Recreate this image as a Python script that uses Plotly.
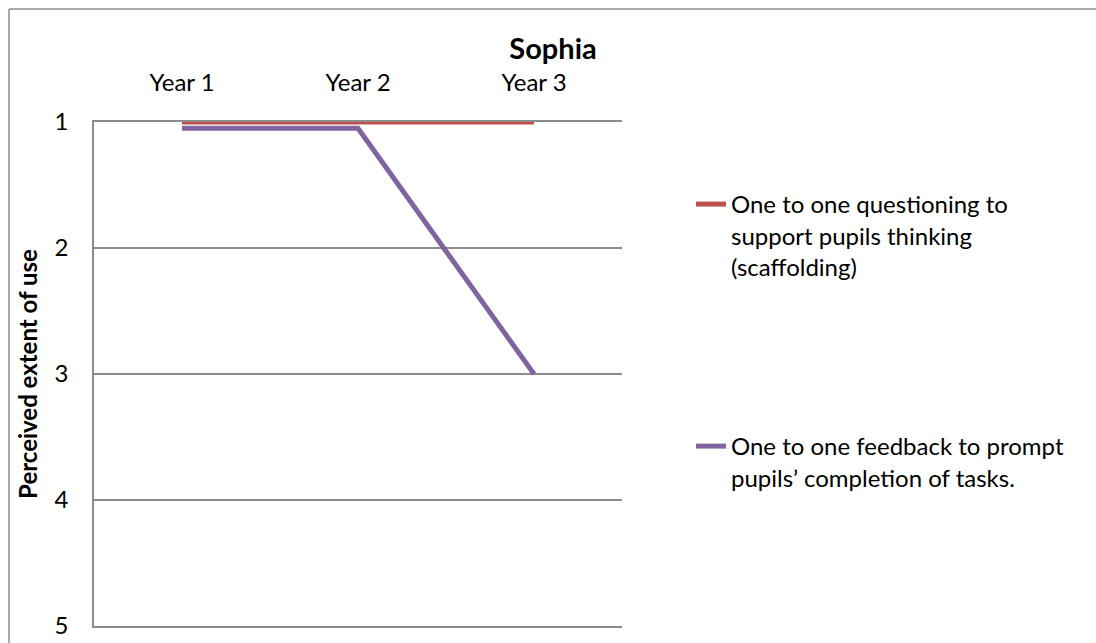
import plotly.graph_objects as go

years = ["Year 1", "Year 2", "Year 3"]
questioning = [1, 1, 1]
feedback = [1.05, 1.05, 3]
series_names = [
    "One to one questioning to<br>support pupils thinking<br>(scaffolding)",
    "One to one feedback to prompt<br>pupils\u2019 completion of tasks.",
]
y_ticks = [1, 2, 3, 4, 5]
title_text = "Sophia"
y_title = "Perceived extent of use"

FONT = "Lato"
W, H = 1096, 643
L, R, T, B = 94, 622, 122, 626
pw, ph = R - L, B - T

def px(x):
    return (x - L) / pw

def py(y):
    return (B - y) / ph

fig = go.Figure()
fig.add_trace(go.Scatter(x=years, y=questioning, mode="lines", name=series_names[0],
                         line=dict(color="#C0504D", width=5), legend="legend",
                         showlegend=True))
fig.add_trace(go.Scatter(x=years, y=feedback, mode="lines", name=series_names[1],
                         line=dict(color="#8064A2", width=5), legend="legend2",
                         showlegend=True))

grid_col = "#8c8c8c"
fig.update_layout(
    width=W, height=H,
    margin=dict(l=L, r=W - R, t=T, b=H - B, autoexpand=False),
    paper_bgcolor="white", plot_bgcolor="white",
    font=dict(family=FONT, color="black", size=24),
    title=dict(text="<b>" + title_text + "</b>", xref="container", x=553 / W,
               xanchor="center", yref="container", y=1 - 49 / H, yanchor="middle",
               font=dict(size=29, family=FONT)),
    xaxis=dict(side="top", type="category", range=[-0.5, 2.5], showgrid=False,
               showline=True, mirror=True, linecolor=grid_col, linewidth=1.5,
               layer="below traces", ticks="", ticklabelstandoff=20, automargin=False,
               tickfont=dict(size=24, family=FONT)),
    yaxis=dict(range=[5, 1], tickvals=y_ticks, showgrid=True, gridcolor=grid_col,
               gridwidth=1.5, zeroline=False, showline=True, linecolor=grid_col,
               linewidth=1.5, layer="below traces", ticks="", ticklabelstandoff=19,
               ticklabeloverflow="allow", automargin=False,
               tickfont=dict(size=24, family=FONT),
               title=dict(text="<b>" + y_title + "</b>", font=dict(size=24, family=FONT),
                          standoff=10)),
    legend=dict(x=px(691), xanchor="left", y=py(182), yanchor="top", valign="top",
                font=dict(size=24, family=FONT), bgcolor="rgba(0,0,0,0)"),
    legend2=dict(x=px(691), xanchor="left", y=py(424), yanchor="top", valign="top",
                 font=dict(size=24, family=FONT), bgcolor="rgba(0,0,0,0)"),
    shapes=[
        dict(type="line", xref="paper", yref="paper",
             x0=px(9), x1=px(1120), y0=py(9), y1=py(9),
             line=dict(color=grid_col, width=1.5), layer="below"),
        dict(type="line", xref="paper", yref="paper",
             x0=px(9), x1=px(9), y0=py(9), y1=py(680),
             line=dict(color=grid_col, width=1.5), layer="below"),
    ],
)

fig.write_html("out.html", config={"displayModeBar": False},
               post_script="document.body.style.margin='0';document.body.style.overflow='hidden';")
